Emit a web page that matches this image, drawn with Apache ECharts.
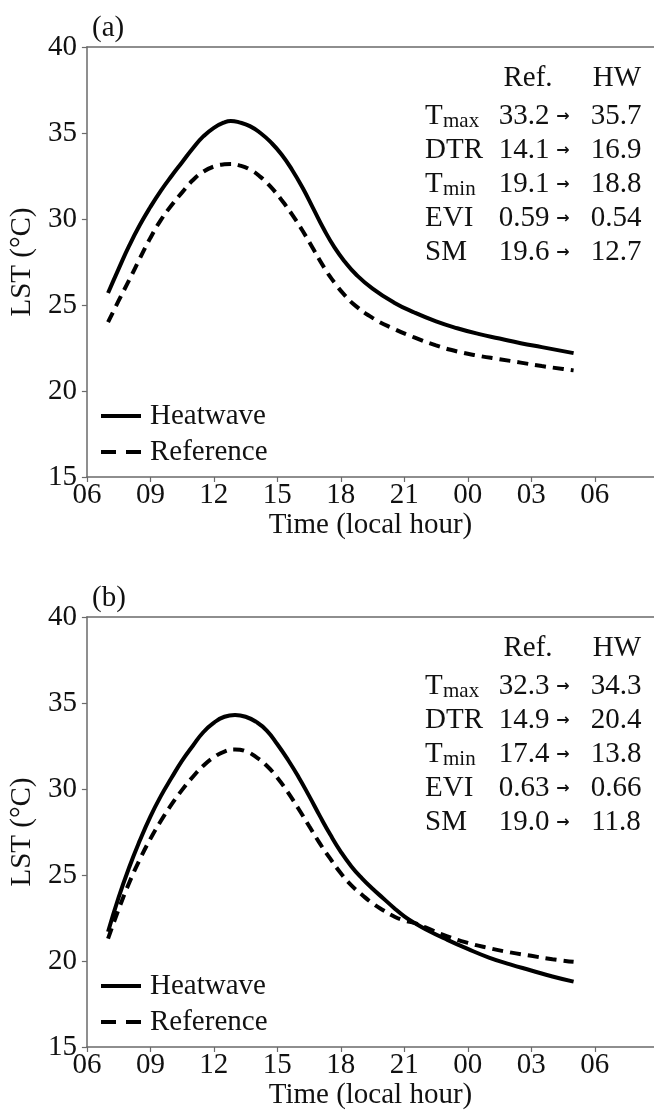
<!DOCTYPE html>
<html>
<head>
<meta charset="utf-8">
<script src="https://cdn.jsdelivr.net/npm/echarts@6/dist/echarts.min.js"></script>
<style>
  html, body { margin: 0; padding: 0; background: #fff; }
  #chart { width: 654px; height: 1112px; }
</style>
</head>
<body>
<div id="chart"></div>
<script>
// Diurnal land surface temperature cycles, heatwave vs reference period

// Panel (a)
const hoursA = [7, 7.5, 8, 8.5, 9, 9.5, 10, 10.5, 11, 11.5, 12, 12.5, 12.8, 13.2, 13.7, 14.2, 14.7, 15.2, 15.7, 16.2, 16.7, 17.2, 17.7, 18.2, 18.7, 19.5, 20.5, 21.5, 22.5, 23.5, 24.5, 25.5, 26.5, 27.5, 28.5, 29];
const heatA = [25.7, 27.1, 28.45, 29.65, 30.7, 31.65, 32.5, 33.3, 34.1, 34.8, 35.3, 35.62, 35.7, 35.62, 35.4, 35.0, 34.45, 33.75, 32.85, 31.8, 30.6, 29.4, 28.35, 27.5, 26.8, 25.95, 25.15, 24.55, 24.05, 23.65, 23.32, 23.05, 22.78, 22.55, 22.32, 22.2];
const refA  = [24.0, 25.25, 26.45, 27.7, 28.9, 29.95, 30.8, 31.55, 32.25, 32.75, 33.05, 33.18, 33.2, 33.12, 32.88, 32.45, 31.85, 31.1, 30.25, 29.3, 28.25, 27.2, 26.3, 25.55, 24.95, 24.25, 23.62, 23.1, 22.65, 22.3, 22.05, 21.85, 21.65, 21.45, 21.28, 21.2];

// Panel (b)
const hoursB = [7, 7.5, 8, 8.5, 9, 9.5, 10, 10.5, 11, 11.5, 12, 12.5, 13, 13.5, 14, 14.5, 15, 15.5, 16, 16.5, 17, 17.5, 18, 18.5, 19, 19.5, 20, 20.5, 21, 21.5, 22, 23, 24, 25, 26, 27, 28, 29];
const heatB = [21.7, 23.7, 25.45, 27.0, 28.4, 29.6, 30.65, 31.65, 32.5, 33.3, 33.85, 34.2, 34.3, 34.2, 33.9, 33.4, 32.6, 31.7, 30.7, 29.6, 28.45, 27.35, 26.35, 25.5, 24.8, 24.2, 23.65, 23.1, 22.6, 22.2, 21.85, 21.25, 20.7, 20.2, 19.8, 19.45, 19.1, 18.8];
const refB  = [21.3, 23.0, 24.55, 25.9, 27.1, 28.15, 29.1, 29.95, 30.7, 31.35, 31.85, 32.18, 32.3, 32.2, 31.85, 31.35, 30.65, 29.8, 28.85, 27.85, 26.85, 25.95, 25.1, 24.4, 23.85, 23.35, 22.95, 22.6, 22.35, 22.2, 21.95, 21.45, 21.05, 20.75, 20.5, 20.3, 20.1, 19.95];

// Summary tables (reference period -> heatwave)
const statNames = [['T', 'max'], ['DTR', ''], ['T', 'min'], ['EVI', ''], ['SM', '']];
const statRefA = ['33.2', '14.1', '19.1', '0.59', '19.6'];
const statHwA  = ['35.7', '16.9', '18.8', '0.54', '12.7'];
const statRefB = ['32.3', '14.9', '17.4', '0.63', '19.0'];
const statHwB  = ['34.3', '20.4', '13.8', '0.66', '11.8'];
const panelTags = ['(a)', '(b)'];
const seriesNames = ['Heatwave', 'Reference'];

const FONT = '"Liberation Serif", "Times New Roman", serif';
const INK = '#111';
const SPINE = '#6a6a6a';
const FS = 29;

const panelTop = [47, 617];
const plotH = 430;
const plotLeft = 83;

function hourLabel(v) {
  const h = ((Math.round(v) % 24) + 24) % 24;
  return (h < 10 ? '0' : '') + h;
}

const chart = echarts.init(document.getElementById('chart'), null, { renderer: 'canvas' });

const grids = panelTop.map(t => ({ left: plotLeft, top: t, height: plotH, right: 0 }));

const xAxes = [];
const yAxes = [];
panelTop.forEach((t, i) => {
  xAxes.push({
    type: 'value', gridIndex: i, position: 'bottom', min: 6, max: 32.8, interval: 3,
    name: 'Time (local hour)', nameLocation: 'middle', nameGap: 34,
    nameTextStyle: { fontFamily: FONT, fontSize: FS, color: INK },
    axisLine: { show: true, lineStyle: { color: SPINE, width: 1.5 } },
    axisTick: { show: true, inside: false, length: 5, lineStyle: { color: SPINE, width: 1.2 } },
    axisLabel: { fontFamily: FONT, fontSize: FS, color: INK, margin: 4, formatter: hourLabel,
                 showMaxLabel: false },
    splitLine: { show: false }
  });
  xAxes.push({
    type: 'value', gridIndex: i, position: 'top', min: 6, max: 32.8,
    axisLine: { show: true, lineStyle: { color: SPINE, width: 1.5 } },
    axisTick: { show: false }, axisLabel: { show: false }, splitLine: { show: false }
  });
  yAxes.push({
    type: 'value', gridIndex: i, min: 15, max: 40, interval: 5,
    name: 'LST (°C)', nameLocation: 'middle', nameRotate: 90, nameGap: 38,
    nameTextStyle: { fontFamily: FONT, fontSize: FS, color: INK },
    axisLine: { show: true, lineStyle: { color: SPINE, width: 1.5 } },
    axisTick: { show: true, inside: false, length: 5, lineStyle: { color: SPINE, width: 1.2 } },
    axisLabel: { fontFamily: FONT, fontSize: FS, color: INK, margin: 10 },
    splitLine: { show: false }
  });
});

function pairs(xs, ys) { return xs.map((x, k) => [x, ys[k]]); }

const curveSets = [
  [pairs(hoursA, heatA), pairs(hoursA, refA)],
  [pairs(hoursB, heatB), pairs(hoursB, refB)]
];

const series = [];
curveSets.forEach((set, i) => {
  set.forEach((d, j) => {
    series.push({
      name: seriesNames[j], type: 'line', xAxisIndex: i * 2, yAxisIndex: i,
      data: d, smooth: 0.5, symbol: 'none', silent: true,
      itemStyle: { color: '#000' },
      lineStyle: { color: '#000', width: 4, type: j === 0 ? 'solid' : [11, 7], cap: 'butt' }
    });
  });
});

// Legend keys: solid line, then two long dashes
const legendKeys = [
  { name: seriesNames[0], lineStyle: { type: 'solid', width: 4, color: '#000' } },
  { name: seriesNames[1], lineStyle: { type: [15, 10], width: 4, color: '#000' } }
];
const legends = panelTop.map(t => ({
  data: legendKeys, orient: 'vertical', left: 94, top: t + plotH - 83,
  itemWidth: 40, itemHeight: 14, itemGap: 2, selectedMode: false,
  itemStyle: { opacity: 0 },
  textStyle: { fontFamily: FONT, fontSize: FS, color: INK, lineHeight: 34, padding: [0, 0, 0, 4] }
}));

// Table and panel tags
const graphics = [];
const tables = [[statRefA, statHwA], [statRefB, statHwB]];
function txt(x, y, s, opts) {
  return {
    type: 'text', x: x, y: y, silent: true,
    style: Object.assign({ text: s, fontFamily: FONT, fontSize: FS, fill: INK,
                           textAlign: 'left', textVerticalAlign: 'middle' }, opts || {})
  };
}
panelTop.forEach((t, i) => {
  graphics.push(txt(92, t - 19, panelTags[i]));
  graphics.push(txt(528, t + 31, 'Ref.', { textAlign: 'center' }));
  graphics.push(txt(617, t + 31, 'HW', { textAlign: 'center' }));
  const [rv, hv] = tables[i];
  statNames.forEach((nm, r) => {
    const y = t + 69 + r * 34;
    graphics.push(txt(425, y, nm[0]));
    if (nm[1]) graphics.push(txt(443, y + 5, nm[1], { fontSize: 21 }));
    graphics.push(txt(524, y, rv[r], { textAlign: 'center' }));
    graphics.push(txt(563, y + 1, '→', { textAlign: 'center', fontSize: 16, fontWeight: 'bold',
                                          fontFamily: '"DejaVu Sans", sans-serif' }));
    graphics.push(txt(616, y, hv[r], { textAlign: 'center' }));
  });
});

chart.setOption({
  animation: false,
  backgroundColor: '#fff',
  grid: grids,
  xAxis: xAxes,
  yAxis: yAxes,
  legend: legends,
  series: series,
  graphic: graphics
});
</script>
</body>
</html>
